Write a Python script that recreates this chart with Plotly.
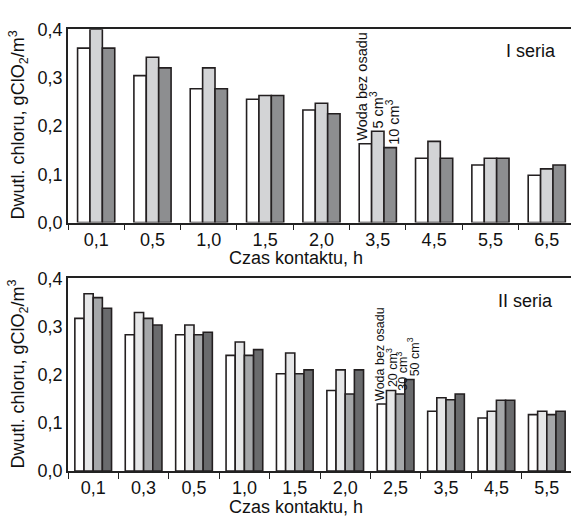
import plotly.graph_objects as go

# ---- data: I seria ----
cats1 = ["0,1", "0,5", "1,0", "1,5", "2,0", "3,5", "4,5", "5,5", "6,5"]
s1_woda = [0.361, 0.304, 0.277, 0.255, 0.233, 0.163, 0.133, 0.119, 0.098]
s1_5 = [0.400, 0.342, 0.320, 0.263, 0.247, 0.189, 0.168, 0.133, 0.111]
s1_10 = [0.361, 0.320, 0.277, 0.263, 0.225, 0.155, 0.133, 0.133, 0.119]
names1 = ["Woda bez osadu", "5 cm<sup>3</sup>", "10 cm<sup>3</sup>"]

# ---- data: II seria ----
cats2 = ["0,1", "0,3", "0,5", "1,0", "1,5", "2,0", "2,5", "3,5", "4,5", "5,5"]
s2_woda = [0.317, 0.283, 0.283, 0.240, 0.202, 0.167, 0.139, 0.124, 0.110, 0.117]
s2_20 = [0.368, 0.329, 0.303, 0.268, 0.245, 0.210, 0.167, 0.152, 0.124, 0.124]
s2_30 = [0.360, 0.317, 0.283, 0.240, 0.202, 0.160, 0.160, 0.148, 0.147, 0.117]
s2_50 = [0.338, 0.303, 0.288, 0.252, 0.210, 0.210, 0.190, 0.160, 0.147, 0.124]
names2 = ["Woda bez osadu", "20 cm<sup>3</sup>", "30 cm<sup>3</sup>", "50 cm<sup>3</sup>"]

yticks = [0, 0.1, 0.2, 0.3, 0.4]
yticktext = ["0,0", "0,1", "0,2", "0,3", "0,4"]

FONT = "Liberation Sans, Arial, sans-serif"
LINE = "#231f20"
W, H = 571, 524
ML = 68
PW = W - ML


def px_x(px):
    return (px - ML) / PW


def px_y(py):
    return 1 - py / H


fig = go.Figure()

series1 = [s1_woda, s1_5, s1_10]
colors1 = ["#ffffff", "#d3d4d6", "#8d8e90"]
w1 = 0.22
offs1 = [-0.33, -0.11, 0.11]
for vals, col, off, nm in zip(series1, colors1, offs1, names1):
    fig.add_trace(go.Bar(x=cats1, y=vals, width=w1, offset=off, name=nm,
                         marker=dict(color=col, line=dict(color=LINE, width=1.6)),
                         xaxis="x", yaxis="y", showlegend=False))

series2 = [s2_woda, s2_20, s2_30, s2_50]
colors2 = ["#ffffff", "#e6e7e8", "#a5a7a9", "#6a6b6d"]
w2 = 0.182
offs2 = [-0.364, -0.182, 0.0, 0.182]
for vals, col, off, nm in zip(series2, colors2, offs2, names2):
    fig.add_trace(go.Bar(x=cats2, y=vals, width=w2, offset=off, name=nm,
                         marker=dict(color=col, line=dict(color=LINE, width=1.6)),
                         xaxis="x2", yaxis="y2", showlegend=False))

annotations = []
# series labels above bars
lab1_idx = 5
shifts1 = [-3, -1, 2]
for vals, off, nm, xs in zip(series1, offs1, names1, shifts1):
    annotations.append(dict(x=lab1_idx + off + w1 / 2, y=vals[lab1_idx], xref="x", yref="y",
                            text=nm, textangle=-90, showarrow=False,
                            xanchor="center", yanchor="bottom", xshift=xs, yshift=1,
                            font=dict(family=FONT, size=14.5, color="#111")))
lab2_idx = 6
shifts2 = [-2, 1, 2, 4]
for vals, off, nm, xs in zip(series2, offs2, names2, shifts2):
    annotations.append(dict(x=lab2_idx + off + w2 / 2, y=vals[lab2_idx], xref="x2", yref="y2",
                            text=nm, textangle=-90, showarrow=False,
                            xanchor="center", yanchor="bottom", xshift=xs, yshift=1,
                            font=dict(family=FONT, size=12.5, color="#111")))

# series titles
annotations.append(dict(x=px_x(558), y=px_y(43), xref="paper", yref="paper", text="I seria",
                        showarrow=False, xanchor="right", yanchor="middle",
                        font=dict(family=FONT, size=18, color="#111")))
annotations.append(dict(x=px_x(555), y=px_y(303), xref="paper", yref="paper", text="II seria",
                        showarrow=False, xanchor="right", yanchor="middle",
                        font=dict(family=FONT, size=18, color="#111")))

# axis titles
for ypx in [258, 517]:
    annotations.append(dict(x=px_x(296), y=px_y(ypx), xref="paper", yref="paper",
                            text="Czas kontaktu, h", showarrow=False,
                            xanchor="center", yanchor="middle",
                            font=dict(family=FONT, size=18, color="#111")))
for ypx in [120, 379]:
    annotations.append(dict(x=px_x(18), y=px_y(ypx), xref="paper", yref="paper",
                            text="Dwutl. chloru, gClO<sub>2</sub>/m<sup>3</sup>",
                            textangle=-90, showarrow=False,
                            xanchor="center", yanchor="middle",
                            font=dict(family=FONT, size=18, color="#111")))

xcommon = dict(type="category", tickson="boundaries", ticks="outside", ticklen=6,
               tickwidth=1.2, tickcolor="#222", showline=True, linecolor="#222",
               linewidth=1.5, mirror=True, showgrid=False, zeroline=False,
               tickfont=dict(family=FONT, size=18, color="#111"))
ycommon = dict(range=[0, 0.4], tickvals=yticks, ticktext=yticktext, showline=True,
               linecolor="#222", linewidth=1.5, showgrid=False, zeroline=False,
               ticks="", tickfont=dict(family=FONT, size=18, color="#111"))

dom1 = [px_y(221), px_y(20)]
dom2 = [px_y(479.3), px_y(279)]

fig.update_layout(
    width=W, height=H,
    margin=dict(l=ML, r=0, t=0, b=0),
    paper_bgcolor="white", plot_bgcolor="white",
    barmode="overlay",
    xaxis=dict(xcommon, domain=[0, 1], anchor="y", range=[-0.5, 8.43]),
    yaxis=dict(ycommon, domain=dom1, anchor="x"),
    xaxis2=dict(xcommon, domain=[0, 1], anchor="y2", range=[-0.5, 9.48]),
    yaxis2=dict(ycommon, domain=dom2, anchor="x2"),
    annotations=annotations,
    font=dict(family=FONT),
)

fig.write_html("out.html",
               config={"displayModeBar": False},
               post_script="document.body.style.margin='0';document.body.style.overflow='hidden';")
